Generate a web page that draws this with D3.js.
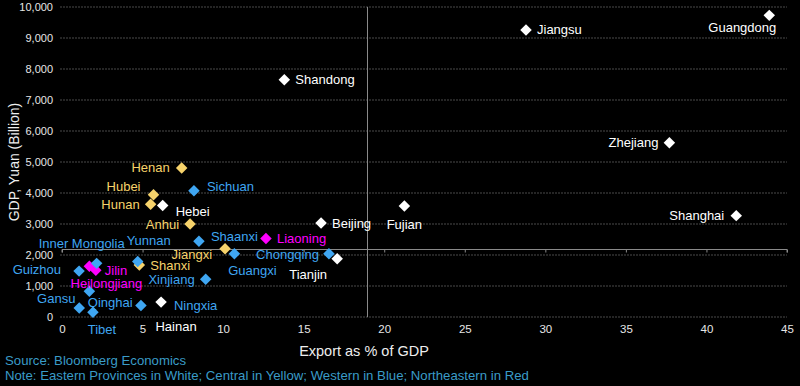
<!DOCTYPE html>
<html>
<head>
<meta charset="utf-8">
<script src="https://cdn.jsdelivr.net/npm/d3@7"></script>
<style>
  html, body { margin: 0; padding: 0; background: #000; }
  svg { display: block; font-family: "Liberation Sans", Arial, sans-serif; }
</style>
</head>
<body>
<svg id="chart" width="800" height="386"></svg>
<script>
// ---------- data ----------
const provinces = ["Guangdong","Jiangsu","Shandong","Zhejiang","Shanghai","Fujian","Beijing","Tianjin","Hebei","Hainan",
  "Henan","Hubei","Hunan","Anhui","Jiangxi","Shanxi",
  "Sichuan","Shaanxi","Guangxi","Chongqing","Yunnan","Inner Mongolia","Guizhou","Xinjiang","Gansu","Qinghai","Ningxia","Tibet",
  "Liaoning","Jilin","Heilongjiang"];
const regions = ["East","East","East","East","East","East","East","East","East","East",
  "Central","Central","Central","Central","Central","Central",
  "West","West","West","West","West","West","West","West","West","West","West","West",
  "Northeast","Northeast","Northeast"];
const exportShare = [43.9,28.8,13.8,37.7,41.85,21.25,16.08,17.08,6.25,6.15,
  7.43,5.68,5.5,7.95,10.12,4.8,
  8.19,8.5,10.7,16.57,4.7,2.15,1.06,8.92,1.7,1.07,4.9,1.92,
  12.66,2.1,1.7];
const gdp = [9730,9260,7650,5620,3270,3580,3030,1880,3600,480,
  4810,3940,3640,3000,2200,1680,
  4070,2440,2040,2040,1790,1730,1480,1220,830,290,370,150,
  2530,1510,1640];
const xTicks = [0,5,10,15,20,25,30,35,40,45];
const yTicks = [0,1000,2000,3000,4000,5000,6000,7000,8000,9000,10000];
const crossX = 18.9;   // vertical reference line (export share)
const crossY = 2200;   // horizontal reference line (GDP)

// ---------- layout / style ----------
const W = 800, H = 386;
const regionColor = { East: "#ffffff", Central: "#f7d36b", West: "#3fa6f2", Northeast: "#ff00ff" };
const drawOrder = { Central: 0, Northeast: 0, West: 1, East: 2 };
// label placement relative to marker: [anchor, dx, dy]
const labelPos = {
  "Guangdong": ["end", 7, 12], "Jiangsu": ["start", 11, 0], "Shandong": ["start", 11, 0],
  "Zhejiang": ["end", -11, 0], "Shanghai": ["end", -12, 0], "Fujian": ["middle", 0, 18],
  "Beijing": ["start", 11, 0], "Tianjin": ["middle", -29, 16], "Hebei": ["start", 13, 6],
  "Hainan": ["middle", 15, 24], "Henan": ["end", -12, 0], "Hubei": ["end", -13, -8],
  "Hunan": ["end", -11, 0], "Anhui": ["end", -11, 0], "Jiangxi": ["end", -13, 6],
  "Shanxi": ["start", 11, 1], "Sichuan": ["start", 13, -4], "Shaanxi": ["start", 12, -5],
  "Guangxi": ["middle", 18, 17], "Chongqing": ["end", -10, 1], "Yunnan": ["middle", 11, -21],
  "Inner Mongolia": ["middle", -15, -20], "Guizhou": ["end", -18, -2], "Xinjiang": ["end", -11, 0],
  "Gansu": ["end", -14, 7], "Qinghai": ["middle", 31, -6], "Ningxia": ["start", 33, 0],
  "Tibet": ["middle", 9, 17], "Liaoning": ["start", 11, 0], "Jilin": ["start", 9, 0],
  "Heilongjiang": ["middle", 17, 17]
};

const svg = d3.select("#chart");
svg.append("rect").attr("width", W).attr("height", H).attr("fill", "#000");

const x = d3.scaleLinear().domain([0, 45]).range([62, 787]);
const y = d3.scaleLinear().domain([0, 10000]).range([317, 7]);

// gridlines
svg.append("g").selectAll("line").data(yTicks).join("line")
  .attr("x1", x(0) - 2).attr("x2", x(45))
  .attr("y1", d => y(d)).attr("y2", d => y(d))
  .attr("stroke", "#4a4a4a").attr("stroke-width", 1).attr("stroke-dasharray", "2,1");

// y tick labels
const yAxis = d3.axisLeft(y).tickValues(yTicks).tickSize(0).tickPadding(0)
  .tickFormat(d3.format(","));
const gy = svg.append("g").attr("transform", "translate(53,0)").call(yAxis);
gy.select(".domain").remove();
gy.selectAll("text").attr("fill", "#e6e6e6").attr("font-size", 11).attr("font-family", "Liberation Sans, Arial, sans-serif");

// x tick labels (bottom)
const xAxisLabels = d3.axisBottom(x).tickValues(xTicks).tickSize(0).tickPadding(0);
const gxl = svg.append("g").attr("transform", "translate(0,325)").call(xAxisLabels);
gxl.select(".domain").remove();
gxl.selectAll("text").attr("fill", "#e6e6e6").attr("font-size", 11.5).attr("font-family", "Liberation Sans, Arial, sans-serif");

// crossing horizontal axis with ticks
const xAxisCross = d3.axisBottom(x).tickValues(xTicks).tickSize(3).tickFormat("");
const gxc = svg.append("g").attr("transform", `translate(0,${Math.round(y(crossY)) + 0.5})`).call(xAxisCross);
gxc.select(".domain").attr("stroke", "#8a8a8a").attr("d", `M${x(0)},3V0H${x(45)}V3`);
gxc.selectAll(".tick line").attr("stroke", "#8a8a8a");

// vertical reference line
svg.append("line")
  .attr("x1", Math.round(x(crossX)) + 0.5).attr("x2", Math.round(x(crossX)) + 0.5)
  .attr("y1", y(10000)).attr("y2", y(0))
  .attr("stroke", "#8a8a8a").attr("stroke-width", 1);

// points
const pts = provinces.map((p, i) => ({ name: p, region: regions[i], ex: exportShare[i], g: gdp[i] }))
  .sort((a, b) => drawOrder[a.region] - drawOrder[b.region]);

const diamond = d3.symbol().type(d3.symbolSquare).size(66);
svg.append("g").selectAll("path").data(pts).join("path")
  .attr("d", diamond)
  .attr("transform", d => `translate(${x(d.ex)},${y(d.g)}) rotate(45)`)
  .attr("fill", d => regionColor[d.region]);

// labels
svg.append("g").selectAll("text").data(pts).join("text")
  .attr("x", d => x(d.ex) + labelPos[d.name][1])
  .attr("y", d => y(d.g) + labelPos[d.name][2])
  .attr("dy", "0.35em")
  .attr("text-anchor", d => labelPos[d.name][0])
  .attr("fill", d => regionColor[d.region])
  .attr("font-size", 13)
  .text(d => d.name);

// axis titles
svg.append("text")
  .attr("transform", `translate(14,${162}) rotate(-90)`)
  .attr("text-anchor", "middle").attr("dy", "0.35em")
  .attr("fill", "#eeeeee").attr("font-size", 14)
  .text("GDP, Yuan (Billion)");
svg.append("text")
  .attr("x", 364).attr("y", 351).attr("dy", "0.35em")
  .attr("text-anchor", "middle")
  .attr("fill", "#eeeeee").attr("font-size", 14.5)
  .text("Export as % of GDP");

// source and note
svg.append("text").attr("x", 5).attr("y", 360).attr("dy", "0.35em")
  .attr("fill", "#3a9cc8").attr("font-size", 13.2)
  .text("Source: Bloomberg Economics");
svg.append("text").attr("x", 5).attr("y", 375).attr("dy", "0.35em")
  .attr("fill", "#3a9cc8").attr("font-size", 13.2)
  .text("Note: Eastern Provinces in White; Central in Yellow; Western in Blue; Northeastern in Red");
</script>
</body>
</html>
